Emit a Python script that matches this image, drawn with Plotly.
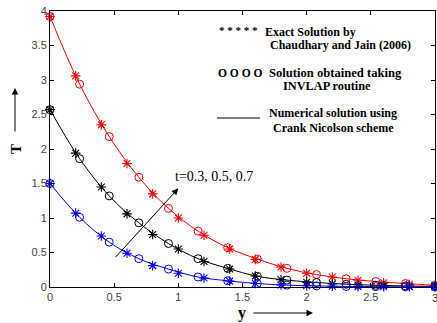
import plotly.graph_objects as go

# star (exact) positions and circle (INVLAP) positions
x_star = [0, 0.2, 0.4, 0.6, 0.8, 1.0, 1.2, 1.4, 1.6, 1.8, 2.0, 2.2, 2.4, 2.6, 2.8, 3.0]
x_circ = [0, 0.2308, 0.4615, 0.6923, 0.9231, 1.1538, 1.3846, 1.6154, 1.8462, 2.0769,
          2.3077, 2.5385, 2.7692, 3.0]

red_star = [3.92, 3.06, 2.35, 1.79, 1.35, 1.00, 0.75, 0.55, 0.40, 0.29, 0.20, 0.145, 0.097, 0.06, 0.04, 0.025]
red_circ = [3.92, 2.94, 2.18, 1.59, 1.14, 0.81, 0.57, 0.405, 0.27, 0.18, 0.12, 0.08, 0.05, 0.025]

blk_star = [2.57, 1.94, 1.45, 1.06, 0.76, 0.55, 0.37, 0.26, 0.16, 0.107, 0.07, 0.045, 0.03, 0.02, 0.012, 0.01]
blk_circ = [2.57, 1.86, 1.32, 0.93, 0.63, 0.41, 0.27, 0.155, 0.10, 0.065, 0.04, 0.025, 0.015, 0.01]

blu_star = [1.50, 1.07, 0.74, 0.49, 0.31, 0.20, 0.13, 0.085, 0.05, 0.03, 0.018, 0.01, 0.006, 0.004, 0.003, 0.002]
blu_circ = [1.50, 1.01, 0.65, 0.41, 0.26, 0.145, 0.09, 0.05, 0.027, 0.015, 0.008, 0.005, 0.003, 0.002]

x_ticks = [0, 0.5, 1, 1.5, 2, 2.5, 3]
x_tick_text = ["0", "0.5", "1", "1.5", "2", "2.5", "3"]
y_ticks = [0, 0.5, 1, 1.5, 2, 2.5, 3, 3.5, 4]
y_tick_text = ["0", "0.5", "1", "1.5", "2", "2.5", "3", "3.5", "4"]

series = [
    ("red", red_star, red_circ),
    ("black", blk_star, blk_circ),
    ("blue", blu_star, blu_circ),
]

fig = go.Figure()
for col, ys, yc in series:
    fig.add_trace(go.Scatter(x=x_circ, y=yc, mode="lines",
                             line=dict(color=col, width=1, shape="spline"),
                             showlegend=False, hoverinfo="skip", cliponaxis=False))
    fig.add_trace(go.Scatter(x=x_star, y=ys, mode="markers",
                             marker=dict(symbol="asterisk-open", size=8, color=col,
                                         line=dict(color=col, width=1.1)),
                             showlegend=False, cliponaxis=False))
    fig.add_trace(go.Scatter(x=x_circ, y=yc, mode="markers",
                             marker=dict(symbol="circle-open", size=8, color=col,
                                         line=dict(color=col, width=1)),
                             showlegend=False, cliponaxis=False))

serif = "Liberation Serif"

W, H = 437, 323
L, R, T, B = 50, 2, 11, 36
pw, ph = W - L - R, H - T - B

def px(xp):
    return (xp - L) / pw

def py(yp):
    return (H - B - yp) / ph

def txt(xp, yp, s, size=12, bold=True):
    fig.add_annotation(xref="paper", yref="paper", x=px(xp), y=py(yp),
                       text=("<b>%s</b>" % s) if bold else s,
                       showarrow=False, xanchor="left", yanchor="middle",
                       font=dict(family=serif, size=size, color="black"))

txt(217, 30, "* * * * *", size=11)
txt(263, 32, "Exact Solution by", size=12)
txt(268, 45, "Chaudhary and Jain (2006)", size=12)
txt(216, 73, "O O O O", size=11.5)
txt(267, 73, "Solution obtained taking", size=12.6)
txt(281, 86, "INVLAP routine", size=12.3)
txt(267, 113, "Numerical solution using", size=12)
txt(271, 128, "Crank Nicolson scheme", size=12)
fig.add_shape(type="line", xref="paper", yref="paper", x0=px(217), x1=px(260),
              y0=py(118), y1=py(118), line=dict(color="black", width=1))

# t arrow
fig.add_annotation(x=1.0, y=1.43, ax=0.5, ay=0.41, xref="x", yref="y", axref="x", ayref="y",
                   showarrow=True, arrowhead=2, arrowsize=1.3, arrowwidth=1, arrowcolor="black",
                   text="")
fig.add_annotation(x=0.96, y=1.6, xref="x", yref="y", text="t=0.3, 0.5, 0.7", showarrow=False,
                   xanchor="left", yanchor="middle", font=dict(family=serif, size=14, color="black"))

# edge tick label that plotly would drop
fig.add_annotation(x=3, y=py(290), xref="x", yref="paper", text="3", showarrow=False,
                   xanchor="center", yanchor="top",
                   font=dict(family="Liberation Sans", size=11, color="#444444"))

# axis titles with arrows
fig.add_annotation(xref="paper", yref="paper", x=px(16), y=py(149), text="<b>T</b>", textangle=-90,
                   showarrow=False, xanchor="center", yanchor="middle",
                   font=dict(family=serif, size=15, color="black"))
fig.add_annotation(xref="paper", yref="paper", x=px(15), y=py(88), ax=0, ay=45,
                   axref="pixel", ayref="pixel", text="", showarrow=True, arrowhead=2,
                   arrowsize=1.3, arrowwidth=1, arrowcolor="black")
fig.add_annotation(xref="paper", yref="paper", x=px(242), y=py(302), text="<b>y</b>",
                   showarrow=False, xanchor="center", yanchor="top",
                   font=dict(family=serif, size=16, color="black"))
fig.add_annotation(xref="paper", yref="paper", x=px(313), y=py(313), ax=-61, ay=0,
                   axref="pixel", ayref="pixel", text="", showarrow=True, arrowhead=2,
                   arrowsize=1.3, arrowwidth=1, arrowcolor="black")

axis_common = dict(showgrid=False, zeroline=False, showline=True, linecolor="black", linewidth=1,
                   mirror="ticks", ticks="inside", ticklen=4, tickcolor="black",
                   tickfont=dict(family="Liberation Sans", size=11, color="#444444"))
fig.update_xaxes(range=[0, 3], tickvals=x_ticks, ticktext=x_tick_text, **axis_common)
fig.update_yaxes(range=[0, 4], tickvals=y_ticks, ticktext=y_tick_text, **axis_common)

fig.update_layout(width=W, height=H, margin=dict(l=L, r=R, t=T, b=B),
                  plot_bgcolor="white", paper_bgcolor="white", showlegend=False)

fig.write_html("out.html")
